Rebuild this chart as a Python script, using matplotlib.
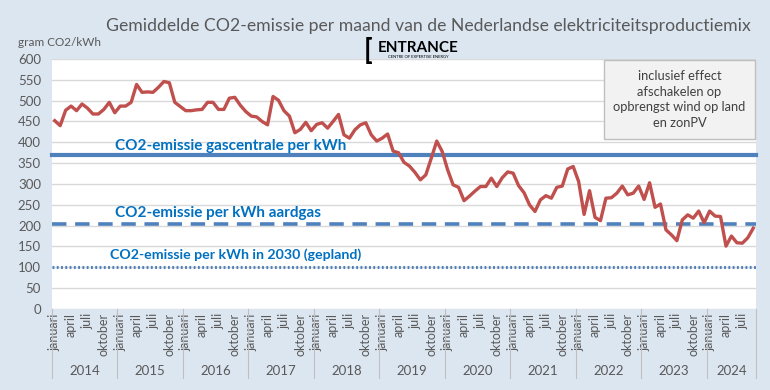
import numpy as np
import matplotlib
matplotlib.use("Agg")
import matplotlib.pyplot as plt
from matplotlib.patches import FancyBboxPatch

# monthly CO2 emission (gram CO2/kWh), Jan 2014 .. Sep 2024
years = [2014, 2015, 2016, 2017, 2018, 2019, 2020, 2021, 2022, 2023, 2024]
months = ['januari', 'februari', 'maart', 'april', 'mei', 'juni', 'juli',
          'augustus', 'september', 'oktober', 'november', 'december']
shown_months = ['januari', 'april', 'juli', 'oktober']

co2_2014 = [452, 440, 477, 487, 476, 492, 482, 468, 468, 479, 496, 471]
co2_2015 = [487, 487, 496, 539, 520, 521, 520, 532, 546, 543, 496, 486]
co2_2016 = [476, 476, 478, 479, 496, 496, 479, 479, 506, 508, 489, 474]
co2_2017 = [463, 461, 450, 442, 510, 501, 476, 463, 423, 431, 448, 428]
co2_2018 = [443, 447, 434, 450, 467, 418, 410, 430, 442, 447, 418, 403]
co2_2019 = [410, 420, 379, 375, 352, 343, 328, 310, 322, 362, 403, 378]
co2_2020 = [334, 298, 292, 260, 271, 283, 294, 294, 314, 294, 315, 329]
co2_2021 = [326, 296, 279, 250, 234, 262, 272, 266, 292, 295, 336, 342]
co2_2022 = [306, 227, 284, 220, 212, 266, 267, 278, 295, 274, 278, 295]
co2_2023 = [263, 303, 244, 252, 190, 178, 164, 214, 226, 218, 235, 207]
co2_2024 = [235, 223, 222, 151, 175, 159, 158, 171, 194]

gascentrale = 370
aardgas = 205
doel_2030 = 102

series = [co2_2014, co2_2015, co2_2016, co2_2017, co2_2018, co2_2019,
          co2_2020, co2_2021, co2_2022, co2_2023, co2_2024]
values = np.concatenate(series)
labels = []
for yr, s in zip(years, series):
    for m in range(len(s)):
        labels.append(months[m])
x = np.arange(len(values))

W, H = 770, 390
bg = '#DCE6F1'
grey = '#595959'
blue_txt = '#0070C0'
blue_line = '#4F81BD'

plt.rcParams['font.family'] = ['Lato', 'DejaVu Sans']

fig = plt.figure(figsize=(W / 100, H / 100), dpi=100, facecolor=bg)
ax = fig.add_axes([52 / W, 1 - 309 / H, 704 / W, 250 / H])
ax.set_facecolor('white')

ax.set_ylim(0, 600)
ax.set_xlim(-0.5, len(values) - 0.5)
ax.set_yticks(np.arange(0, 601, 50))
ax.grid(axis='y', color='#D9D9D9', linewidth=1)
ax.set_axisbelow(True)
for sp in ax.spines.values():
    sp.set_visible(False)
ax.tick_params(axis='y', length=0, labelsize=9.5, labelcolor=grey, pad=8)

ax.axhline(gascentrale, color=blue_line, linewidth=3, clip_on=False)
ax.axhline(aardgas, color=blue_line, linewidth=2.6, dashes=(4, 2.4), clip_on=False)
ax.axhline(doel_2030, color=blue_line, linewidth=2.2, dashes=(0.6, 0.8), clip_on=False)

ax.plot(x, values, color='#C0504D', linewidth=2.4, solid_joinstyle='round')

# month tick labels
tick_pos = [i for i, l in enumerate(labels) if l in shown_months]
ax.set_xticks(tick_pos)
ax.set_xticklabels([labels[i] for i in tick_pos], rotation=90, fontsize=9,
                   color=grey)
ax.tick_params(axis='x', length=0, pad=3)

# year groups
start = 0
for yr, s in zip(years, series):
    end = start + len(s)
    ax.plot([start - 0.5, start - 0.5], [0, -166], color='#BFBFBF',
            linewidth=0.8, clip_on=False)
    ax.text((start + end - 1) / 2, -149, str(yr), ha='center', va='center',
            fontsize=9.5, color=grey)
    start = end
ax.plot([start - 0.5, start - 0.5], [0, -166], color='#BFBFBF',
        linewidth=0.8, clip_on=False)

# line labels
ax.text(11.0, 391, 'CO2-emissie gascentrale per kWh', color=blue_txt,
        fontsize=11, fontweight='bold', va='center')
ax.text(11.0, 230, 'CO2-emissie per kWh aardgas', color=blue_txt,
        fontsize=11, fontweight='bold', va='center')
ax.text(10.1, 130, 'CO2-emissie per kWh in 2030 (gepland)', color=blue_txt,
        fontsize=10.2, fontweight='bold', va='center')

# title, unit, logo
fig.text(428 / W, 1 - 26 / H,
         'Gemiddelde CO2-emissie per maand van de Nederlandse elektriciteitsproductiemix',
         ha='center', va='center', fontsize=12.7, color=grey)
fig.text(18 / W, 1 - 42 / H, 'gram CO2/kWh', ha='left', va='center',
         fontsize=8.5, color=grey)
fig.text(368 / W, 1 - 51 / H, '[', ha='center', va='center', fontsize=20,
         fontweight='bold', color='black')
fig.text(418 / W, 1 - 48 / H, 'ENTRANCE', ha='center', va='center',
         fontsize=11, fontweight='bold', color='black')
fig.text(418 / W, 1 - 57.5 / H, 'CENTRE OF EXPERTISE ENERGY', ha='center',
         va='center', fontsize=3, color='black')

# note box
box = FancyBboxPatch((604 / W, 1 - 139 / H), 151 / W, 79 / H,
                     boxstyle='square,pad=0', transform=fig.transFigure,
                     facecolor='#F2F2F2', edgecolor='#BFBFBF', linewidth=1)
fig.patches.append(box)
fig.text(679.5 / W, 1 - 99.5 / H,
         'inclusief effect\nafschakelen op\nopbrengst wind op land\nen zonPV',
         ha='center', va='center', fontsize=9.3, color='#404040',
         linespacing=1.35)

fig.savefig('out.png', dpi=100, facecolor=bg)
